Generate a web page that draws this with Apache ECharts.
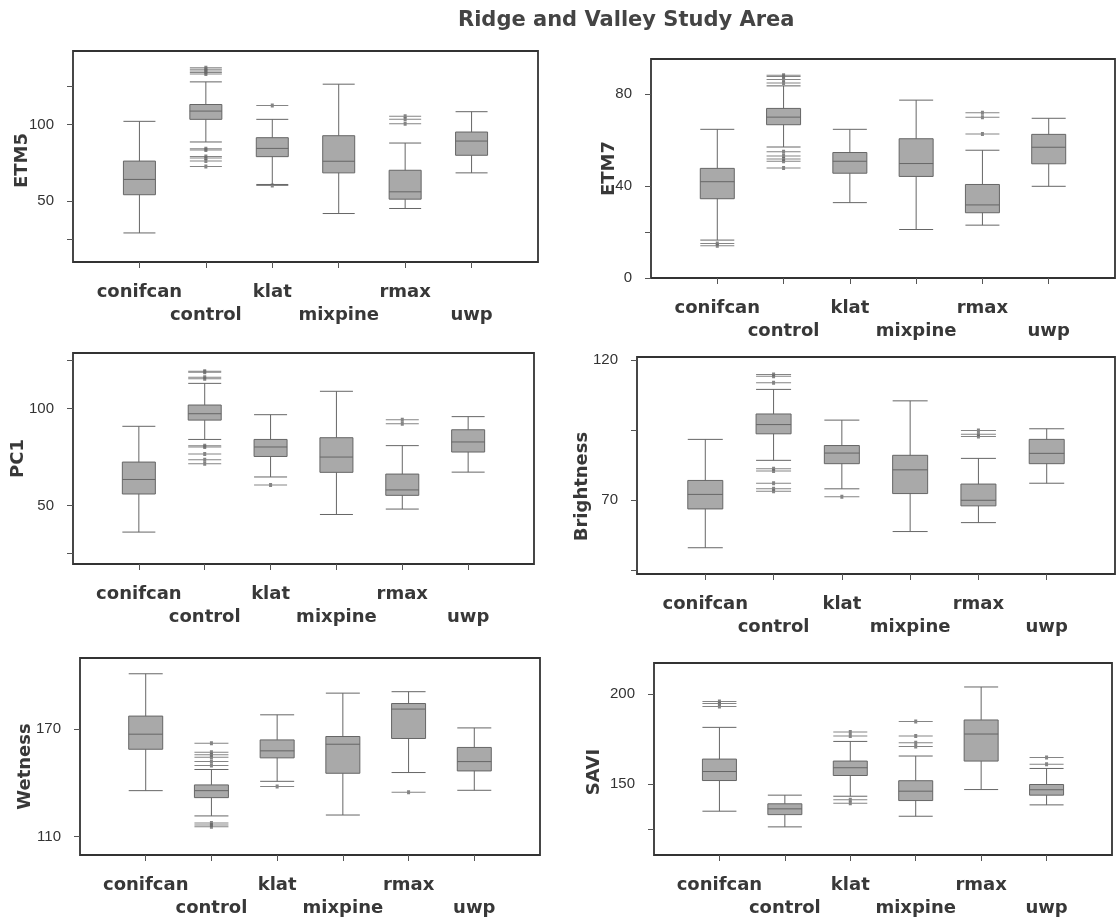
<!DOCTYPE html>
<html>
<head>
<meta charset="utf-8">
<script src="https://cdn.jsdelivr.net/npm/echarts@6/dist/echarts.min.js"></script>
<style>
html,body{margin:0;padding:0;background:#fff;}
#chart{width:1118px;height:921px;}
</style>
</head>
<body>
<div id="chart"></div>
<script>
// ---------- DATA ----------
const categories = ['conifcan', 'control', 'klat', 'mixpine', 'rmax', 'uwp'];
const panelNames = ['ETM5', 'ETM7', 'PC1', 'Brightness', 'Wetness', 'SAVI'];

// box values per category: [lower whisker, Q1, median, Q3, upper whisker]
const etm5Boxes = [[29, 54, 64, 76, 102], [88.5, 103.3, 108.7, 113, 127.8], [60.7, 78.9, 84.3, 91.3, 103.3], [41.7, 68.3, 75.9, 92.6, 126.3], [45, 51.1, 55.9, 70, 87.8], [68.3, 79.8, 89.1, 95, 108.3]];
const etm5Outliers = [['control', 137], ['control', 136], ['control', 135], ['control', 134], ['control', 133], ['control', 84], ['control', 83.3], ['control', 79], ['control', 78], ['control', 76], ['control', 72.5], ['klat', 112.4], ['klat', 60.1], ['rmax', 105.4], ['rmax', 103.3], ['rmax', 100.4]];

const etm7Boxes = [[16.5, 34.5, 41.9, 47.7, 64.7], [57, 66.7, 70, 73.8, 83.6], [32.8, 45.6, 50.8, 54.6, 64.7], [21.1, 44.2, 49.8, 60.6, 77.4], [23, 28.4, 31.8, 40.7, 55.6], [39.9, 49.7, 56.9, 62.5, 69.5]];
const etm7Outliers = [['conifcan', 15], ['conifcan', 14], ['control', 88.2], ['control', 87.7], ['control', 86.4], ['control', 84.9], ['control', 54.9], ['control', 53.1], ['control', 51.8], ['control', 50.8], ['control', 47.9], ['rmax', 71.9], ['rmax', 69.9], ['rmax', 62.7]];

const pc1Boxes = [[36.2, 55.9, 63.4, 72.4, 90.9], [84.1, 94.1, 97.4, 101.9, 113.1], [64.7, 75.3, 80.2, 84.1, 96.9], [45.3, 67.1, 75, 85, 109], [48.1, 55.2, 58, 66.2, 80.9], [67.2, 77.6, 82.8, 89.1, 95.9]];
const pc1Outliers = [['control', 119.3], ['control', 118.8], ['control', 116.2], ['control', 115.5], ['control', 80.9], ['control', 80.2], ['control', 76.6], ['control', 73.6], ['control', 71.6], ['klat', 60.5], ['rmax', 94.3], ['rmax', 92.2]];

const brightBoxes = [[52.9, 66.8, 72, 77, 91.7], [84.2, 93.7, 97, 100.8, 109.6], [74, 83, 86.8, 89.5, 98.6], [58.7, 72.3, 80.8, 86, 105.5], [61.9, 67.9, 69.9, 75.7, 84.9], [76, 83, 86.7, 91.7, 95.5]];
const brightOutliers = [['control', 114.9], ['control', 114.3], ['control', 112], ['control', 81.2], ['control', 80.4], ['control', 76], ['control', 74], ['control', 73.1], ['klat', 71.2], ['rmax', 94.9], ['rmax', 93.5], ['rmax', 92.7]];

const wetBoxes = [[135.7, 158.8, 167.2, 177.3, 200.9], [121.6, 131.8, 135.7, 138.9, 147.5], [140.9, 154, 157.9, 164, 178], [122.1, 145.4, 161.6, 165.9, 190.1], [145.8, 164.8, 181.2, 184.3, 190.9], [135.9, 146.7, 151.9, 159.8, 170.7]];
const wetOutliers = [['control', 162.2], ['control', 157.1], ['control', 155.7], ['control', 154.3], ['control', 151.9], ['control', 149.7], ['control', 117.6], ['control', 116.5], ['control', 115.6], ['klat', 138], ['rmax', 134.8]];

const saviBoxes = [[135, 152, 157, 163.9, 181.5], [126.3, 133.1, 136.3, 139.1, 143.9], [143.3, 154.8, 159.1, 162.8, 173.7], [132.2, 140.9, 146.1, 151.9, 165.6], [147, 162.8, 177.8, 185.6, 203.9], [138.5, 143.9, 146.9, 149.8, 158.7]];
const saviOutliers = [['conifcan', 195.9], ['conifcan', 194.8], ['conifcan', 193.1], ['klat', 178.9], ['klat', 176.7], ['klat', 141.3], ['klat', 139.4], ['mixpine', 184.8], ['mixpine', 176.7], ['mixpine', 173], ['mixpine', 170.9], ['uwp', 164.8], ['uwp', 161.1]];

// axis ranges and ticks
const yRanges = [[10, 148], [0, 95.3], [19.7, 128.8], [43.5, 121.2], [99.8, 209.7], [110.7, 217.2]];
const yTickValues = [[25, 50, 100, 125], [0, 20, 40, 80], [25, 50, 100, 125], [45, 70, 95, 120], [110, 170], [125, 150, 200]];
const yLabelValues = [[50, 100], [0, 40, 80], [50, 100], [70, 120], [110, 170], [150, 200]];

const allBoxes = [etm5Boxes, etm7Boxes, pc1Boxes, brightBoxes, wetBoxes, saviBoxes];
const allOutliers = [etm5Outliers, etm7Outliers, pc1Outliers, brightOutliers, wetOutliers, saviOutliers];

// ---------- LAYOUT / STYLE ----------
const layout = [
  {left: 73, top: 51, width: 465, height: 211, gap: 42, shift: 8, box: 32},
  {left: 651, top: 59, width: 470, height: 219, gap: 33, shift: 0, box: 34},
  {left: 73, top: 353, width: 461, height: 211, gap: 46, shift: 0, box: 33},
  {left: 637, top: 357, width: 486, height: 217, gap: 46, shift: 42, box: 35},
  {left: 80, top: 658, width: 460, height: 197, gap: 46, shift: 20, box: 34},
  {left: 654, top: 663, width: 458, height: 192, gap: 51, shift: 26, box: 34}
];

const axisCats = [''].concat(categories, ['']);
const textColor = '#383838';
const boldFont = 'DejaVu Sans';

function outlierSymbol(w) {
  const m = w / 2;
  return 'path://M0,2 L' + w + ',2 L' + w + ',3 L0,3 Z M' + (m - 1.5) + ',0.5 L' + (m + 1.5) + ',0.5 L' + (m + 1.5) + ',4.5 L' + (m - 1.5) + ',4.5 Z';
}

const grids = [], xAxes = [], yAxes = [], series = [];
layout.forEach(function (L, i) {
  grids.push({left: L.left, top: L.top, width: L.width, height: L.height, show: true,
    borderColor: '#333', borderWidth: 1.8, backgroundColor: 'transparent'});
  xAxes.push({
    type: 'category', gridIndex: i, data: axisCats, boundaryGap: false,
    axisLine: {show: false},
    axisTick: {show: true, length: 6, interval: function (idx, val) { return val !== ''; }, lineStyle: {color: '#555', width: 1}},
    axisLabel: {interval: 0, margin: 19, lineHeight: 23, fontFamily: boldFont, fontWeight: 'bold', fontSize: 18, color: textColor,
      formatter: function (v, idx) { return idx % 2 === 0 ? '\n' + v : v; }},
    splitLine: {show: false}
  });
  yAxes.push({
    type: 'value', gridIndex: i, min: yRanges[i][0], max: yRanges[i][1],
    name: panelNames[i], nameLocation: 'middle', nameRotate: 90, nameGap: L.gap, nameMoveOverlap: false,
    nameTextStyle: {fontFamily: boldFont, fontWeight: 'bold', fontSize: 18, color: textColor, padding: [0, L.shift, 0, 0]},
    axisLine: {show: false},
    axisTick: {show: true, length: 6, customValues: yTickValues[i], lineStyle: {color: '#555'}},
    axisLabel: {customValues: yLabelValues[i], margin: 19, fontFamily: 'Liberation Sans', fontSize: 15, color: '#333'},
    splitLine: {show: false}
  });
  series.push({
    type: 'boxplot', xAxisIndex: i, yAxisIndex: i,
    boxWidth: [L.box, L.box],
    encode: {x: 0, y: [1, 2, 3, 4, 5]},
    itemStyle: {color: '#a9a9a9', borderColor: '#666', borderWidth: 1},
    emphasis: {disabled: true},
    data: categories.map(function (c, k) { return [c].concat(allBoxes[i][k]); })
  });
  series.push({
    type: 'scatter', xAxisIndex: i, yAxisIndex: i,
    symbol: outlierSymbol(L.box), symbolSize: [L.box, 4],
    itemStyle: {color: '#666'},
    emphasis: {disabled: true},
    data: allOutliers[i]
  });
});

const chart = echarts.init(document.getElementById('chart'), null, {renderer: 'canvas'});
chart.setOption({
  animation: false,
  backgroundColor: '#fff',
  title: {text: 'Ridge and Valley Study Area', left: 453, top: 5,
    textStyle: {fontFamily: boldFont, fontWeight: 'bold', fontSize: 21, color: '#444'}},
  grid: grids, xAxis: xAxes, yAxis: yAxes, series: series
});
</script>
</body>
</html>
